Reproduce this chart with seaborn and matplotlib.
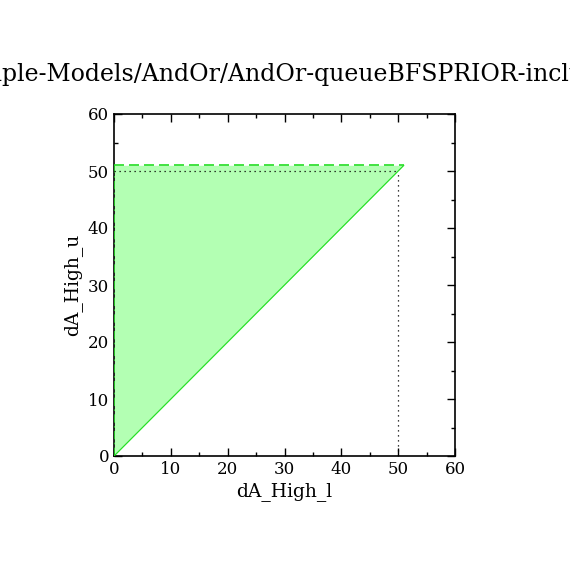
import matplotlib
matplotlib.use("Agg")
import matplotlib.pyplot as plt
import numpy as np
import pandas as pd
import seaborn as sns
from matplotlib.ticker import MultipleLocator

# region corners
diag_x = [0, 51]
diag_y = [0, 51]
top_x = [0, 51]
top_y = [51, 51]
left_x = [0, 0]
left_y = [0, 51]
# dotted guide lines at the sampled point
point = 50
title = "Example-Models/AndOr/AndOr-queueBFSPRIOR-inclusion"

sns.set_style("ticks")
plt.rcParams["font.family"] = ["DejaVu Serif"]
plt.rcParams["text.color"] = "black"
plt.rcParams["axes.labelcolor"] = "black"

fig = plt.figure(figsize=(5.7, 5.7), dpi=100)
ax = fig.add_axes([114 / 570, 1 - 456 / 570, 341 / 570, 342 / 570])

green = "#22dd22"
line_kw = dict(ax=ax, estimator=None, sort=False, zorder=3)
ax.fill_between(diag_x, diag_y, top_y, color="#b3ffb3", lw=0, zorder=1)
sns.lineplot(x=diag_x, y=diag_y, color=green, lw=0.8, **line_kw)
sns.lineplot(x=top_x, y=top_y, color=green, lw=1.2,
             linestyle=(0, (6, 3)), **line_kw)
sns.lineplot(x=left_x, y=left_y, color=green, lw=1.2,
             linestyle=(0, (5, 2, 1, 2)), **line_kw)
sns.lineplot(x=[0, point], y=[point, point], color="black", lw=0.9,
             linestyle=(0, (1, 3)), **line_kw)
sns.lineplot(x=[point, point], y=[0, point], color="black", lw=0.9,
             linestyle=(0, (1, 3)), **line_kw)

ax.set_xlim(0, 60)
ax.set_ylim(0, 60)
ax.xaxis.set_major_locator(MultipleLocator(10))
ax.yaxis.set_major_locator(MultipleLocator(10))
ax.xaxis.set_minor_locator(MultipleLocator(5))
ax.yaxis.set_minor_locator(MultipleLocator(5))
ax.tick_params(which="both", direction="in", top=True, right=True,
               width=1, colors="black", labelsize=12)
ax.tick_params(which="major", length=6)
ax.tick_params(which="minor", length=3)
for s in ax.spines.values():
    s.set_linewidth(1.2)
    s.set_color("black")

ax.set_xlabel("dA_High_l", fontsize=13.5, labelpad=3)
ax.set_ylabel("dA_High_u", fontsize=13.5, labelpad=4)
fig.text(0.5, 1 - 75 / 570, title, ha="center", va="center", fontsize=17)

fig.savefig("out.png", dpi=100)
